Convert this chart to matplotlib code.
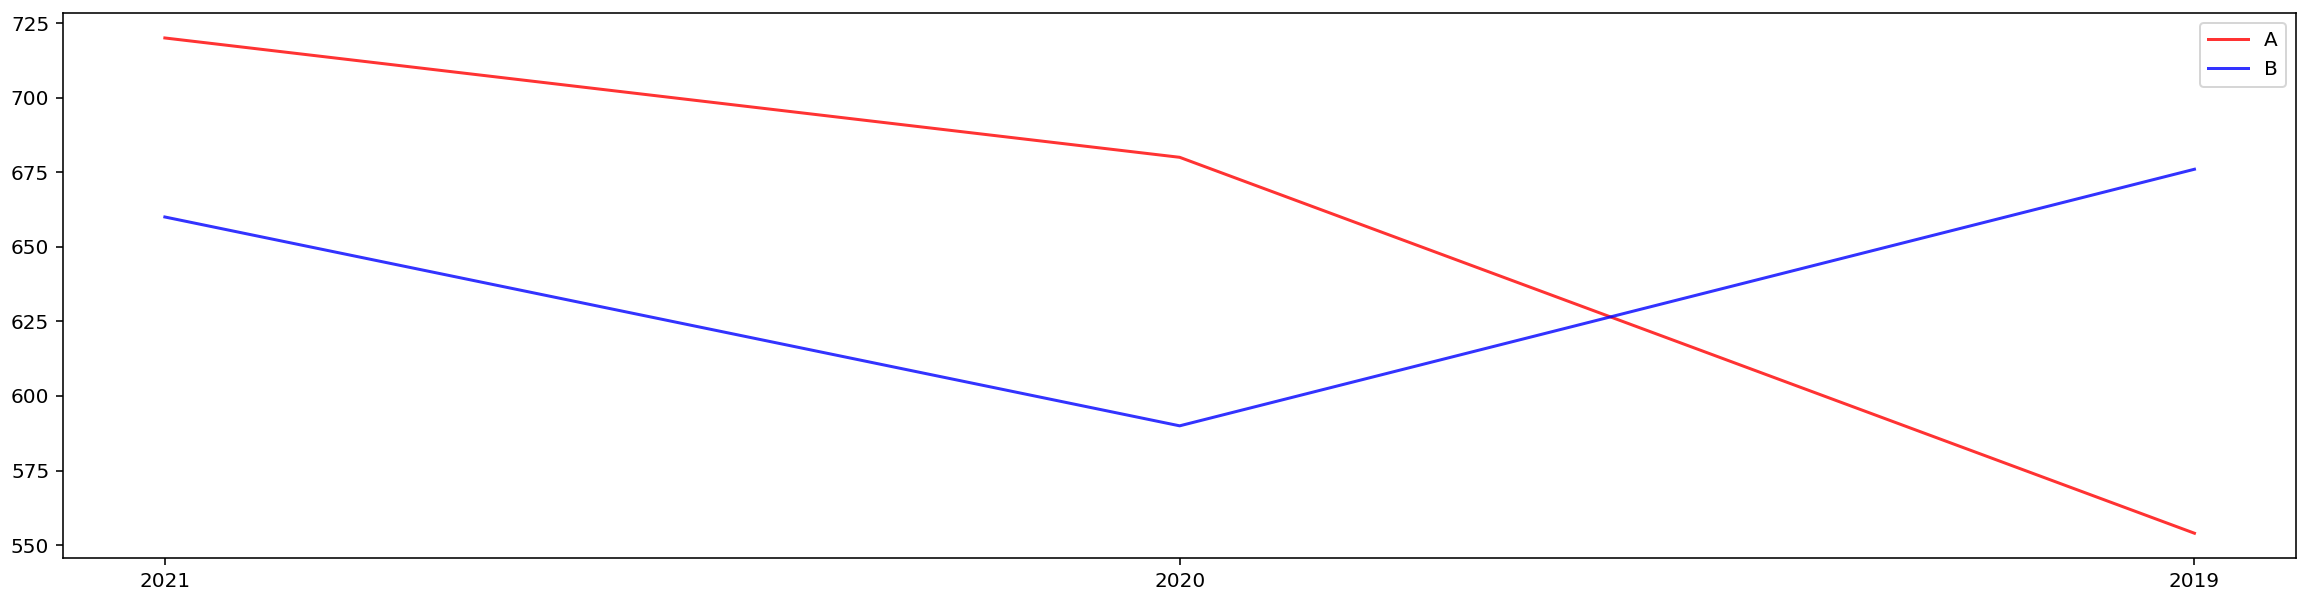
import matplotlib
matplotlib.use("Agg")
import matplotlib.pyplot as plt

# years on the x axis, newest first (categorical)
years = ["2021", "2020", "2019"]

series_a = [720, 680, 554]
series_b = [660, 590, 676]

fig, ax = plt.subplots(figsize=(16, 600 / 144), dpi=144)
fig.subplots_adjust(left=0.0275, right=0.9965, top=0.978, bottom=0.07)

ax.plot(years, series_a, color="red", alpha=0.8, linewidth=1.5, label="A")
ax.plot(years, series_b, color="blue", alpha=0.8, linewidth=1.5, label="B")

ax.legend(loc="upper right")

fig.savefig("out.png", dpi=144)
